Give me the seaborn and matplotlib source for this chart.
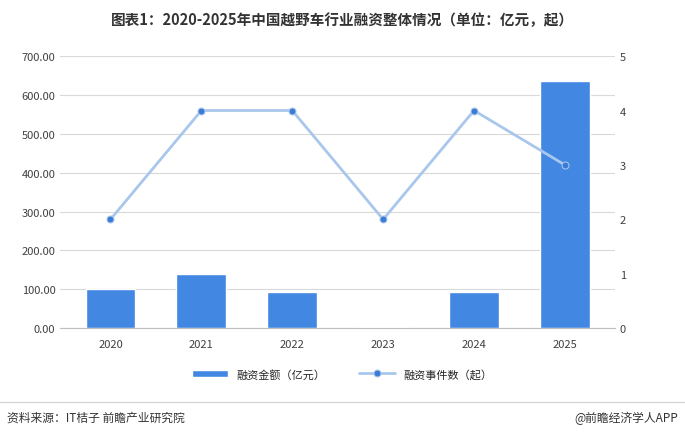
import numpy as np
import pandas as pd
import matplotlib
matplotlib.use("Agg")
import matplotlib.pyplot as plt
import seaborn as sns

years = ["2020", "2021", "2022", "2023", "2024", "2025"]
amount = [100, 140, 93, 3, 93, 635]
events = [2, 4, 4, 2, 4, 3]

sns.set_style("white")
plt.rcParams['font.family'] = ['Noto Sans CJK SC', 'DejaVu Sans']

df = pd.DataFrame({"年份": years, "金额": amount, "事件": events})

fig = plt.figure(figsize=(6.85, 4.39), dpi=100)
ax = fig.add_axes([0.088, 0.25, 0.81, 0.62])
sns.barplot(data=df, x="年份", y="金额", color="#4287E2", width=0.55, ax=ax,
            saturation=1, label="融资金额（亿元）")
if ax.get_legend():
    ax.get_legend().remove()
ax.set_ylim(0, 700)
ax.set_yticks(np.arange(0, 701, 100))
ax.set_yticklabels([f"{v:.2f}" for v in range(0, 701, 100)])
ax.yaxis.grid(True, color="#d9d9d9", lw=0.8)
ax.set_axisbelow(True)
ax.set_xlabel("")
ax.set_ylabel("")
for s in ["top", "right", "left"]:
    ax.spines[s].set_visible(False)
ax.spines["bottom"].set_color("#bfbfbf")
ax.tick_params(axis="both", length=0, labelsize=8, colors="#404040")
ax.tick_params(axis="x", pad=8)

ax2 = ax.twinx()
sns.lineplot(x=np.arange(len(years)), y=events, ax=ax2, color="#A9C7EC", lw=2,
             marker="o", markersize=5, markerfacecolor="#3A7BD5",
             markeredgecolor="#A9C7EC", label="融资事件数（起）", legend=False)
ax2.set_ylim(0, 5)
ax2.set_yticks(range(6))
for s in ["top", "right", "left", "bottom"]:
    ax2.spines[s].set_visible(False)
ax2.tick_params(axis="y", length=0, labelsize=8, colors="#404040")

h1, l1 = ax.get_legend_handles_labels()
h2, l2 = ax2.get_legend_handles_labels()
fig.legend(h1 + h2, l1 + l2, loc="center", bbox_to_anchor=(0.5, 0.146), ncol=2,
           frameon=False, fontsize=8, handlelength=3.2, columnspacing=3)

fig.text(0.5, 0.955, "图表1：2020-2025年中国越野车行业融资整体情况（单位：亿元，起）",
         ha="center", va="center", fontsize=10.5, fontweight="bold", color="#333333")
fig.add_artist(plt.Line2D([0, 1], [0.082, 0.082], color="#d0d0d0", lw=0.8))
fig.text(0.01, 0.047, "资料来源：IT桔子 前瞻产业研究院", fontsize=8.5, va="center", color="#333333")
fig.text(0.99, 0.047, "@前瞻经济学人APP", fontsize=8.5, va="center", ha="right", color="#333333")

fig.savefig("out.png", dpi=100)
